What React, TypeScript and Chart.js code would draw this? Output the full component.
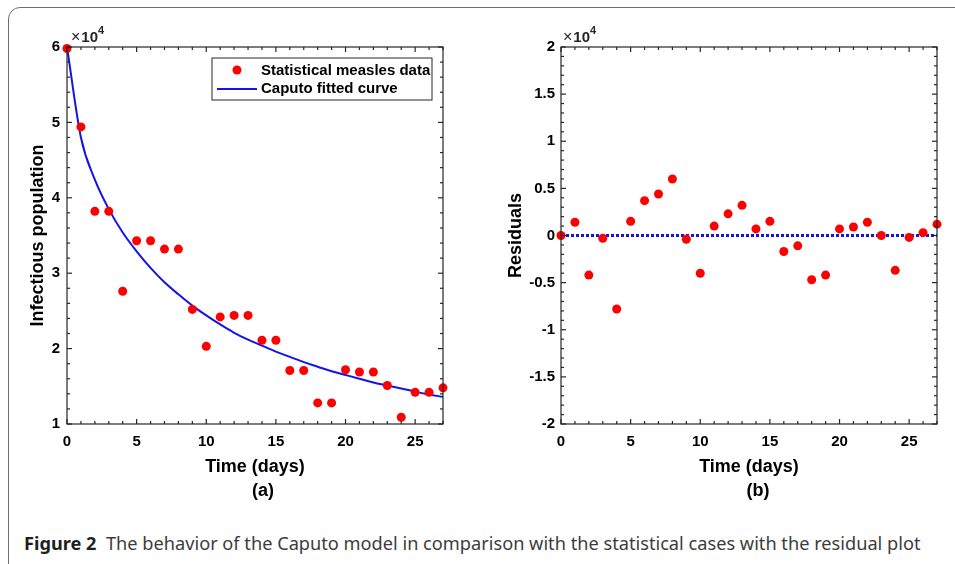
import React, { useEffect, useRef } from "react";
import { Chart, registerables } from "chart.js";

Chart.register(...registerables);

// ---- data ----
const days = [0, 1, 2, 3, 4, 5, 6, 7, 8, 9, 10, 11, 12, 13, 14, 15, 16, 17, 18, 19, 20, 21, 22, 23, 24, 25, 26, 27];
const measlesData = [59800, 49400, 38200, 38200, 27600, 34300, 34300, 33200, 33200, 25200, 20300, 24200, 24400, 24400, 21100, 21100, 17100, 17100, 12800, 12800, 17200, 16900, 16900, 15100, 10900, 14200, 14200, 14800];
const caputoFit = [60000, 48000, 42400, 38500, 35400, 32900, 30700, 28800, 27200, 25700, 24400, 23200, 22100, 21200, 20400, 19600, 18900, 18200, 17600, 17000, 16500, 16000, 15500, 15100, 14700, 14300, 13900, 13600];
const residuals = [0, 1400, -4200, -300, -7800, 1500, 3700, 4400, 6000, -400, -4000, 1000, 2300, 3200, 700, 1500, -1700, -1100, -4700, -4200, 700, 900, 1400, 0, -3700, -200, 300, 1200];
const zeroLine = [0, 0, 0, 0, 0, 0, 0, 0, 0, 0, 0, 0, 0, 0, 0, 0, 0, 0, 0, 0, 0, 0, 0, 0, 0, 0, 0, 0];

const xTitle = "Time (days)";
const leftYTitle = "Infectious population";
const rightYTitle = "Residuals";
const seriesLabels = ["Statistical measles data", "Caputo fitted curve"];

const FONT = '"Liberation Sans", Arial, Helvetica, sans-serif';
const RED = "#ff0000";
const BLUE = "#1414e6";
const AXIS = "#262626";

function pts(ys: number[]) {
  return days.map((d, i) => ({ x: d, y: ys[i] }));
}

const matlabBox = {
  id: "matlabBox",
  afterDatasetsDraw(chart: any, _args: any, opts: any) {
    const { ctx, chartArea } = chart;
    const { left, right, top, bottom } = chartArea;
    const x = chart.scales.x;
    const y = chart.scales.y;
    ctx.save();
    ctx.strokeStyle = AXIS;
    ctx.lineWidth = 1.2;
    const seg = (x1: number, y1: number, x2: number, y2: number) => {
      ctx.beginPath();
      ctx.moveTo(x1, y1);
      ctx.lineTo(x2, y2);
      ctx.stroke();
    };
    // x ticks
    for (let v = x.min; v <= x.max + 1e-9; v += opts.xMinor) {
      const major = Math.abs(v / opts.xMajor - Math.round(v / opts.xMajor)) < 1e-6;
      const len = major ? 5 : 3;
      const px = x.getPixelForValue(v);
      seg(px, bottom, px, bottom - len);
      seg(px, top, px, top + len);
    }
    for (let v = y.min; v <= y.max + 1e-9; v += opts.yMinor) {
      const major = Math.abs(v / opts.yMajor - Math.round(v / opts.yMajor)) < 1e-6;
      const len = major ? 5 : 3;
      const py = y.getPixelForValue(v);
      seg(left, py, left + len, py);
      seg(right, py, right - len, py);
    }
    ctx.strokeRect(left, top, right - left, bottom - top);

    // exponent label
    const ex = left + opts.expOffset;
    ctx.fillStyle = AXIS;
    ctx.textBaseline = "middle";
    ctx.textAlign = "left";
    ctx.font = `16px ${FONT}`;
    ctx.fillText("\u00d7", ex, top - 9);
    const w1 = ctx.measureText("\u00d7").width;
    ctx.font = `bold 15px ${FONT}`;
    ctx.fillText("10", ex + w1 + 1, top - 9);
    const w2 = ctx.measureText("10").width;
    ctx.font = `bold 11px ${FONT}`;
    ctx.fillText("4", ex + w1 + 1 + w2, top - 16);

    // legend
    if (opts.legend) {
      const lw = 220;
      const lh = 42;
      const lx = right - 11 - lw;
      const ly = top + 11;
      ctx.fillStyle = "#ffffff";
      ctx.fillRect(lx, ly, lw, lh);
      ctx.strokeStyle = AXIS;
      ctx.lineWidth = 1;
      ctx.strokeRect(lx, ly, lw, lh);
      const ds = chart.data.datasets;
      ctx.font = `bold 15px ${FONT}`;
      ctx.beginPath();
      ctx.fillStyle = RED;
      ctx.arc(lx + 25, ly + 12, 4.5, 0, Math.PI * 2);
      ctx.fill();
      ctx.fillStyle = "#000";
      ctx.fillText(ds[0].label, lx + 49, ly + 13);
      ctx.strokeStyle = BLUE;
      ctx.lineWidth = 2;
      seg(lx + 5, ly + 31, lx + 45, ly + 31);
      ctx.fillText(ds[1].label, lx + 49, ly + 31);
    }
    ctx.restore();
  },
};

function baseScales(yMin: number, yMax: number, yStep: number, yTitle: string, yWidth: number, yPad: number) {
  const tickFont = { family: FONT, size: 15, weight: "bold" as const };
  const titleFont = { family: FONT, size: 18, weight: "bold" as const };
  return {
    x: {
      type: "linear" as const,
      min: 0,
      max: 27,
      ticks: {
        stepSize: 5,
        includeBounds: false,
        autoSkip: false,
        maxRotation: 0,
        font: tickFont,
        color: "#000",
        padding: 9,
        callback: (v: any) => String(v),
      },
      grid: { display: false, drawTicks: false },
      border: { display: false },
      title: { display: true, text: xTitle, font: titleFont, color: "#000", padding: 0 },
      afterFit: (s: any) => {
        s.height = 54;
      },
    },
    y: {
      type: "linear" as const,
      min: yMin,
      max: yMax,
      ticks: {
        stepSize: yStep,
        includeBounds: false,
        autoSkip: false,
        font: tickFont,
        color: "#000",
        padding: yPad,
        callback: (v: any) => String(Math.round((v / 1e4) * 100) / 100),
      },
      grid: { display: false, drawTicks: false },
      border: { display: false },
      title: { display: true, text: yTitle, font: titleFont, color: "#000", padding: 0 },
      afterFit: (s: any) => {
        s.width = yWidth;
      },
    },
  };
}

function LeftChart() {
  const ref = useRef<HTMLCanvasElement>(null);
  useEffect(() => {
    const chart = new Chart(ref.current!, {
      type: "line",
      data: {
        datasets: [
          {
            label: seriesLabels[0],
            data: pts(measlesData),
            showLine: false,
            pointRadius: 4.5,
            pointBackgroundColor: RED,
            pointBorderColor: RED,
            pointBorderWidth: 0,
            clip: false as any,
          },
          {
            label: seriesLabels[1],
            data: pts(caputoFit),
            borderColor: BLUE,
            borderWidth: 2,
            pointRadius: 0,
            cubicInterpolationMode: "monotone",
            fill: false,
          },
        ],
      },
      options: {
        responsive: false,
        animation: false,
        devicePixelRatio: 1,
        layout: { padding: { left: 27, top: 47, right: 37, bottom: 32 } },
        scales: baseScales(10000, 60000, 10000, leftYTitle, 40, 7) as any,
        plugins: {
          legend: { display: false },
          tooltip: { enabled: false },
          matlabBox: { xMinor: 1, xMajor: 5, yMinor: 2000, yMajor: 10000, legend: true, expOffset: 4 },
        } as any,
      },
      plugins: [matlabBox],
    });
    return () => chart.destroy();
  }, []);
  return <canvas ref={ref} width={480} height={510} style={{ display: "block" }} />;
}

function RightChart() {
  const ref = useRef<HTMLCanvasElement>(null);
  useEffect(() => {
    const chart = new Chart(ref.current!, {
      type: "line",
      data: {
        datasets: [
          {
            label: "Residuals",
            data: pts(residuals),
            showLine: false,
            pointRadius: 4.5,
            pointBackgroundColor: RED,
            pointBorderColor: RED,
            pointBorderWidth: 0,
            clip: false as any,
          },
          {
            label: "Zero",
            data: pts(zeroLine),
            borderColor: BLUE,
            borderWidth: 3,
            borderDash: [3, 2],
            pointRadius: 0,
            fill: false,
          },
        ],
      },
      options: {
        responsive: false,
        animation: false,
        devicePixelRatio: 1,
        layout: { padding: { left: 25, top: 47, right: 18, bottom: 32 } },
        scales: baseScales(-20000, 20000, 5000, rightYTitle, 56, 6) as any,
        plugins: {
          legend: { display: false },
          tooltip: { enabled: false },
          matlabBox: { xMinor: 1, xMajor: 5, yMinor: 1000, yMajor: 5000, legend: false, expOffset: 2 },
        } as any,
      },
      plugins: [matlabBox],
    });
    return () => chart.destroy();
  }, []);
  return <canvas ref={ref} width={475} height={510} style={{ display: "block" }} />;
}

export default function App() {
  const sub: React.CSSProperties = {
    position: "absolute",
    width: 40,
    textAlign: "center",
    font: `bold 18px ${FONT}`,
    lineHeight: "22px",
    color: "#000",
    top: 479,
  };
  return (
    <div
      style={{
        position: "fixed",
        left: 0,
        top: 0,
        width: 955,
        height: 564,
        overflow: "hidden",
        background: "#fff",
      }}
    >
      <div
        style={{
          position: "absolute",
          left: 8,
          top: 7,
          width: 970,
          height: 580,
          border: "1.5px solid #6e6e6e",
          borderRadius: 12,
          boxSizing: "border-box",
        }}
      />
      <div style={{ position: "absolute", left: 0, top: 0 }}>
        <LeftChart />
      </div>
      <div style={{ position: "absolute", left: 480, top: 0 }}>
        <RightChart />
      </div>
      <div style={{ ...sub, left: 263 - 20 }}>(a)</div>
      <div style={{ ...sub, left: 758 - 20 }}>(b)</div>
      <div
        style={{
          position: "absolute",
          left: 24,
          top: 531,
          whiteSpace: "nowrap",
          fontFamily: '"Noto Sans", "Open Sans", sans-serif',
          fontSize: 18.2,
          lineHeight: "24px",
          color: "#3c3c3c",
        }}
      >
        <span style={{ fontWeight: "bold", color: "#1e1e1e" }}>Figure 2</span>
        <span>{"\u00a0\u00a0"}The behavior of the Caputo model in comparison with the statistical cases with the residual plot</span>
      </div>
    </div>
  );
}
